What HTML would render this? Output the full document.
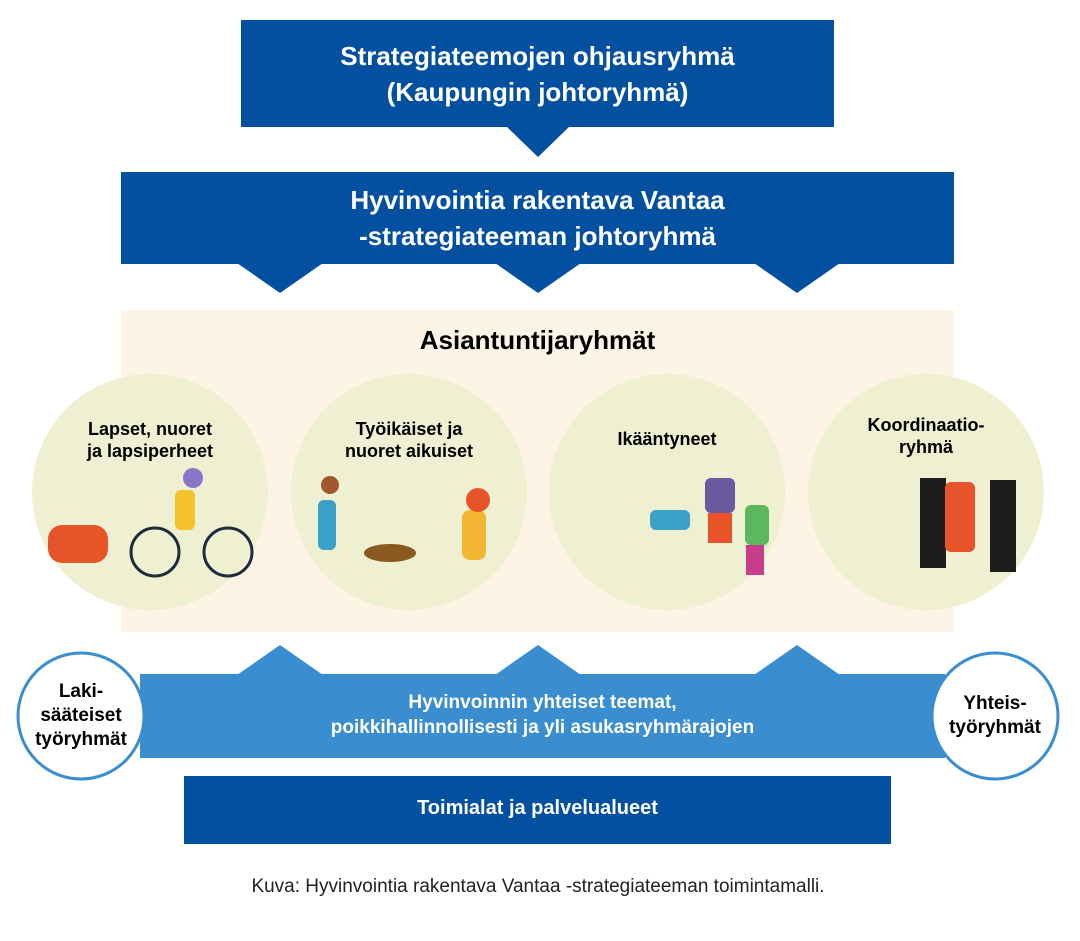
<!DOCTYPE html>
<html><head><meta charset="utf-8"><style>
*{margin:0;padding:0}
body{width:1080px;height:941px;background:#fff;position:relative;overflow:hidden;font-family:"Liberation Sans",sans-serif}
.a{position:absolute}
.t{color:#fff;font-weight:bold;text-align:center}
</style></head><body>
<svg class="a" style="left:0;top:0" width="1080" height="941">
<rect x="241" y="20" width="593" height="107" fill="#0450a0"/>
<polygon points="506,126 570,126 538,157" fill="#0450a0"/>
<rect x="121" y="172" width="833" height="92" fill="#0450a0"/>
<polygon points="237,263 323,263 280,293" fill="#0450a0"/>
<polygon points="495,263 581,263 538,293" fill="#0450a0"/>
<polygon points="754,263 840,263 797,293" fill="#0450a0"/>
<rect x="121" y="310" width="833" height="322" fill="#fdf4e6"/>
<circle cx="150" cy="492" r="118" fill="#eef0d1"/>
<circle cx="409" cy="492" r="118" fill="#eef0d1"/>
<circle cx="667" cy="492" r="118" fill="#eef0d1"/>
<circle cx="926" cy="492" r="118" fill="#eef0d1"/>
<g>
<rect x="48" y="525" width="60" height="38" rx="14" fill="#e8542a"/>
<circle cx="155" cy="552" r="24" fill="none" stroke="#1d2b3a" stroke-width="3"/>
<circle cx="228" cy="552" r="24" fill="none" stroke="#1d2b3a" stroke-width="3"/>
<rect x="175" y="490" width="20" height="40" rx="6" fill="#f4c22b"/>
<circle cx="193" cy="478" r="10" fill="#8a76c8"/>
<rect x="318" y="500" width="18" height="50" rx="6" fill="#3aa0c8"/>
<circle cx="330" cy="485" r="9" fill="#a0582c"/>
<ellipse cx="390" cy="553" rx="26" ry="9" fill="#8a5a20"/>
<rect x="462" y="510" width="24" height="50" rx="8" fill="#f2b632"/>
<circle cx="478" cy="500" r="12" fill="#e8542a"/>
<rect x="650" y="510" width="40" height="20" rx="6" fill="#3aa0c8"/>
<rect x="705" y="478" width="30" height="35" rx="6" fill="#6a5aa0"/>
<rect x="708" y="513" width="24" height="30" fill="#e8542a"/>
<rect x="745" y="505" width="24" height="40" rx="6" fill="#5cb85c"/>
<rect x="746" y="545" width="18" height="30" fill="#c83c8c"/>
<rect x="920" y="478" width="26" height="90" fill="#1d1d1d"/>
<rect x="945" y="482" width="30" height="70" rx="6" fill="#e8542a"/>
<rect x="990" y="480" width="26" height="92" fill="#1d1d1d"/>
</g>
<polygon points="237,675 280,645 323,675" fill="#3a8dcf"/>
<polygon points="495,675 538,645 581,675" fill="#3a8dcf"/>
<polygon points="754,675 797,645 840,675" fill="#3a8dcf"/>
<rect x="140" y="674" width="805" height="84" fill="#3a8dcf"/>
<rect x="184" y="776" width="707" height="68" fill="#0450a0"/>
<circle cx="81" cy="716" r="63" fill="#fff" stroke="#3a8dcf" stroke-width="3"/>
<circle cx="995" cy="716" r="63" fill="#fff" stroke="#3a8dcf" stroke-width="3"/>
</svg>
<div class="a t" style="left:221px;top:38px;width:633px;font-size:26px;line-height:36px">Strategiateemojen ohjausryhmä<br>(Kaupungin johtoryhmä)</div>
<div class="a t" style="left:121px;top:182px;width:833px;font-size:26px;line-height:36px">Hyvinvointia rakentava Vantaa<br>-strategiateeman johtoryhmä</div>
<div class="a" style="left:121px;top:325px;width:833px;text-align:center;font-weight:bold;font-size:26px">Asiantuntijaryhmät</div>
<div class="a" style="left:40px;top:418px;width:220px;text-align:center;font-weight:bold;font-size:18px;line-height:22px">Lapset, nuoret<br>ja lapsiperheet</div>
<div class="a" style="left:299px;top:418px;width:220px;text-align:center;font-weight:bold;font-size:18px;line-height:22px">Työikäiset ja<br>nuoret aikuiset</div>
<div class="a" style="left:557px;top:428px;width:220px;text-align:center;font-weight:bold;font-size:18px;line-height:22px">Ikääntyneet</div>
<div class="a" style="left:816px;top:414px;width:220px;text-align:center;font-weight:bold;font-size:18px;line-height:22px">Koordinaatio-<br>ryhmä</div>
<div class="a t" style="left:140px;top:690px;width:805px;font-size:19px;line-height:25px">Hyvinvoinnin yhteiset teemat,<br>poikkihallinnollisesti ja yli asukasryhmärajojen</div>
<div class="a" style="left:11px;top:680px;width:140px;text-align:center;font-weight:bold;font-size:19px;line-height:24px">Laki-<br>sääteiset<br>työryhmät</div>
<div class="a" style="left:925px;top:692px;width:140px;text-align:center;font-weight:bold;font-size:19px;line-height:24px">Yhteis-<br>työryhmät</div>
<div class="a t" style="left:184px;top:797px;width:707px;font-size:20px">Toimialat ja palvelualueet</div>
<div class="a" style="left:0;top:876px;width:1076px;text-align:center;font-size:19px;color:#222">Kuva: Hyvinvointia rakentava Vantaa -strategiateeman toimintamalli.</div>
</body></html>
